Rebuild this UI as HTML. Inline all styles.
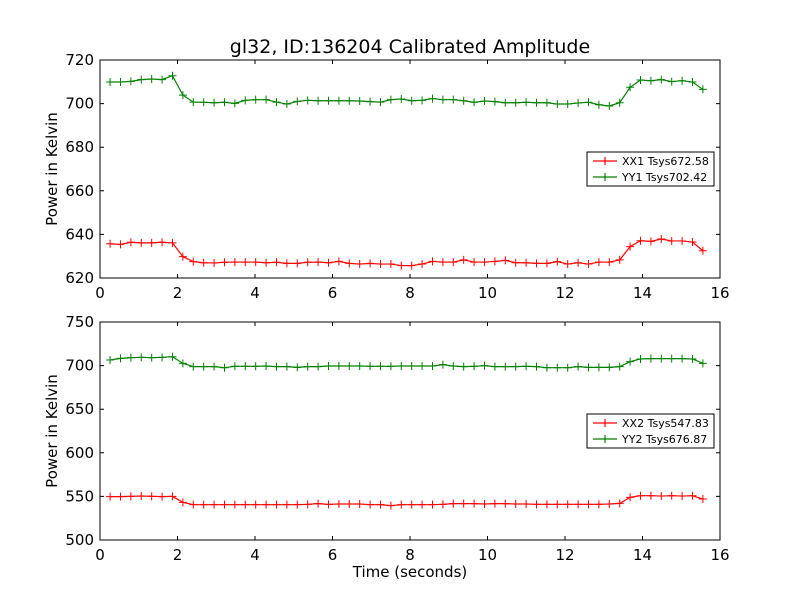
<!DOCTYPE html>
<html><head><meta charset="utf-8"><style>body{margin:0;background:#fff}svg{display:block;font-family:"DejaVu Sans","Liberation Sans",sans-serif}</style></head>
<body>
<svg id="chart" width="800" height="600" xmlns="http://www.w3.org/2000/svg">
<rect width="800" height="600" fill="#fff"/>
<text x="410" y="53" font-size="19" text-anchor="middle">gl32, ID:136204 Calibrated Amplitude</text>
<g id="g"></g>
</svg>
<script>
const tStart = 0.26, tStep = 0.2684;
const xx1 = [635.7,635.4,636.4,636.1,636.1,636.4,636.1,629.8,627.5,627.0,626.9,627.2,627.3,627.3,627.3,627.0,627.2,626.7,626.7,627.2,627.3,627.0,627.6,626.7,626.4,626.7,626.4,626.4,625.7,
625.7,626.4,627.6,627.3,627.3,628.3,627.3,627.3,627.6,628.1,627.0,627.0,626.7,626.7,627.5,626.4,627.0,626.4,627.3,627.3,628.3,634.4,637.1,636.8,637.9,637.0,637.0,636.5,632.5];
const yy1 = [709.9,709.9,710.2,711.0,711.3,711.0,712.8,703.9,700.7,700.6,700.4,700.6,700.1,701.5,701.8,701.8,700.7,699.8,701.0,701.5,701.3,701.3,701.3,701.3,701.2,700.9,700.7,701.8,702.1,
701.3,701.5,702.3,701.8,701.8,701.3,700.6,701.2,700.9,700.4,700.4,700.6,700.4,700.4,699.8,699.8,700.3,700.6,699.5,698.9,700.4,707.5,710.8,710.5,711.0,710.1,710.5,709.9,706.5];
const xx2 = [549.7,549.7,550.1,550.5,550.1,549.7,550.1,543.2,540.5,540.5,540.5,540.5,540.5,540.5,540.5,540.5,540.5,540.5,540.5,540.9,541.7,540.9,541.3,541.3,541.3,540.5,540.5,539.4,540.5,
540.5,540.5,540.5,540.9,541.7,541.7,541.7,541.3,541.7,541.7,541.3,541.3,540.9,540.9,540.9,540.9,540.9,540.9,540.9,541.3,542.0,548.9,550.8,550.8,550.4,550.8,550.4,550.8,547.0];
const yy2 = [706.4,708.3,709.1,709.5,709.1,709.5,710.2,702.6,698.8,698.8,698.8,697.6,699.2,699.2,699.2,699.5,698.8,698.8,698.0,698.8,698.8,699.5,699.5,699.5,699.5,699.2,699.2,699.2,699.5,
699.5,699.5,699.5,701.1,699.5,698.8,699.2,699.9,698.8,698.8,698.8,699.2,698.8,697.6,697.6,697.6,698.8,698.0,698.0,698.0,698.8,704.5,707.6,708.0,708.0,708.0,708.0,707.6,702.6];
const xTicks = [0,2,4,6,8,10,12,14,16];
const yTicksTop = [620,640,660,680,700,720];
const yTicksBot = [500,550,600,650,700,750];
const legendTop = ["XX1 Tsys672.58","YY1 Tsys702.42"];
const legendBot = ["XX2 Tsys547.83","YY2 Tsys676.87"];

const NS="http://www.w3.org/2000/svg", G=document.getElementById('g');
function mk(tag,attrs,parent){const e=document.createElementNS(NS,tag);for(const k in attrs)e.setAttribute(k,attrs[k]);(parent||G).appendChild(e);return e;}
const L=100,R=720;
function panel(top,bot,ymin,ymax,yt,series,labels,legY,name,xlabel){
  const g=mk('g',{});
  
  
  const xs=v=>L+(v-0)/(16-0)*(R-L), ys=v=>bot-(v-ymin)/(ymax-ymin)*(bot-top);
  const colors=['#ff0000','#008000'];
  series.forEach((s,si)=>{
    const pts=s.map((v,i)=>[xs(tStart+i*tStep),ys(v)]);
    const pl=mk('polyline',{points:pts.map(p=>p.join(',')).join(' '),fill:'none',stroke:colors[si],'stroke-width':1.2},g);
    
    
    pts.forEach(p=>{
      const m=mk('path',{d:`M${p[0]-4},${p[1]}h8M${p[0]},${p[1]-4}v8`,stroke:colors[si],'stroke-width':1},g);
      
      
    });
  });
  const fr=mk('rect',{x:L,y:top,width:R-L,height:bot-top,fill:'none',stroke:'#000','stroke-width':1},g);
  
  
  xTicks.forEach(v=>{const x=xs(v);
    mk('path',{d:`M${x},${bot}v-4M${x},${top}v4`,stroke:'#000'},g);
    const t=mk('text',{x:x,y:bot+20,'font-size':15,'text-anchor':'middle'},g);t.textContent=v;
    
    
  });
  yt.forEach(v=>{const y=ys(v);
    mk('path',{d:`M${L},${y}h4M${R},${y}h-4`,stroke:'#000'},g);
    const t=mk('text',{x:L-6,y:y+5,'font-size':15,'text-anchor':'end'},g);t.textContent=v;
    
    
  });
  const yl=mk('text',{x:57,y:(top+bot)/2,'font-size':15,'text-anchor':'middle',transform:`rotate(-90 57 ${(top+bot)/2})`},g);
  yl.textContent='Power in Kelvin';
  
  
  if(xlabel){const xl=mk('text',{x:410,y:577,'font-size':15,'text-anchor':'middle'},g);xl.textContent=xlabel;
    
    }
  const lg=mk('g',{},g);
  
  
  mk('rect',{x:587,y:legY,width:127,height:34,fill:'#fff',stroke:'#000','stroke-width':1},lg);
  labels.forEach((lab,i)=>{const y=legY+9+i*16;
    mk('path',{d:`M593,${y}h24M605,${y-4}v8`,stroke:colors[i],'stroke-width':1.2},lg);
    const t=mk('text',{x:622,y:y+4,'font-size':11},lg);t.textContent=lab;
    
    
  });
}
panel(60,278,620,720,yTicksTop,[xx1,yy1],legendTop,152,'top-panel',null);
panel(322,540,500,750,yTicksBot,[xx2,yy2],legendBot,414,'bottom-panel','Time (seconds)');
</script>
</body></html>
